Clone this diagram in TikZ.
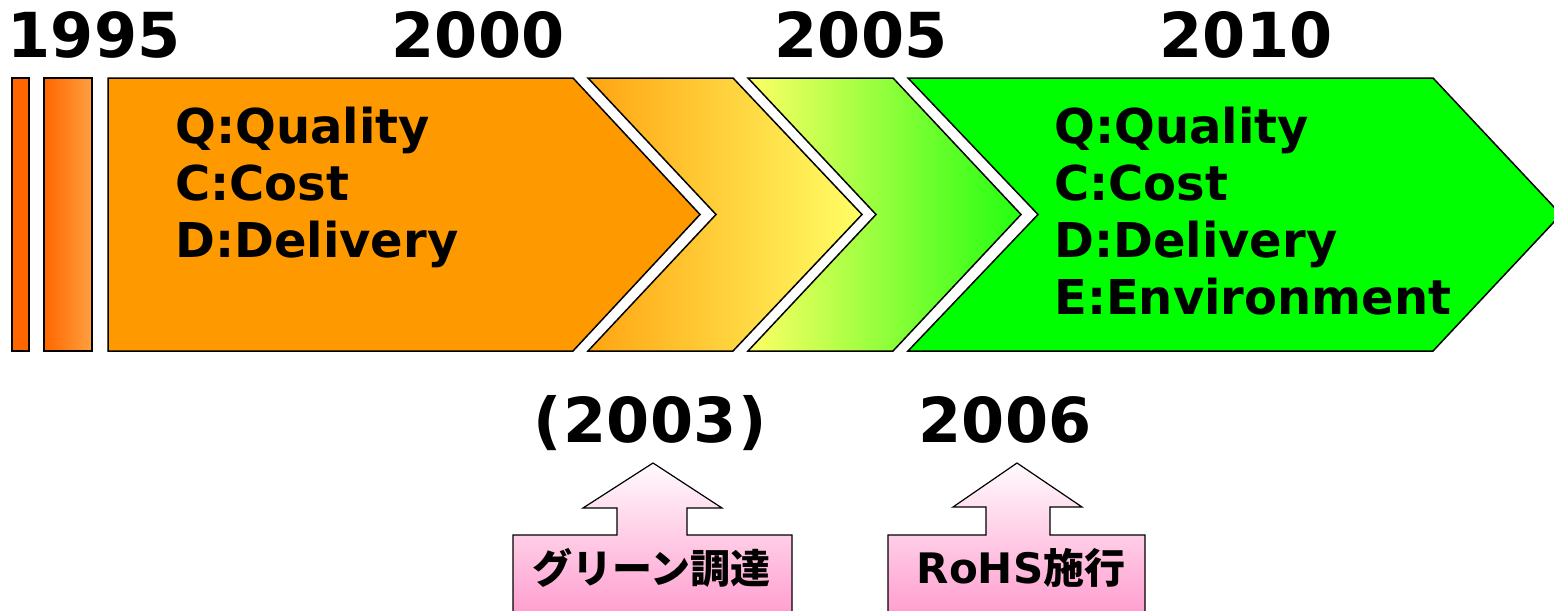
\documentclass[tikz,border=0pt]{standalone}
\usepackage{fontspec}
\setmainfont{DejaVu Sans}
\newfontfamily\jp{Noto Sans CJK JP}
\definecolor{barA}{HTML}{FF6600}
\definecolor{barB}{HTML}{FFA040}
\definecolor{orng}{HTML}{FF9900}
\definecolor{orngL}{HTML}{FFA412}
\definecolor{yell}{HTML}{FFFF66}
\definecolor{grn}{HTML}{00FF00}
\definecolor{grnD}{HTML}{22FF10}
\definecolor{pinkB}{HTML}{FF99CC}
\definecolor{pinkT}{HTML}{FFFAFD}
\tikzset{
  shp/.style={draw=black, line width=1.5, line join=miter},
  yr/.style={font=\bfseries\fontsize{62}{62}\selectfont, inner sep=0, anchor=base},
  qcd/.style={font=\bfseries\fontsize{48}{48}\selectfont, inner sep=0, anchor=base west},
  lbl/.style={inner sep=0, anchor=center},
  callout/.style={shp, line width=1.2, top color=pinkT, bottom color=pinkB}
}
\begin{document}
\begin{tikzpicture}[x=1pt,y=-1pt]
\useasboundingbox (0,0) rectangle (1554,610);
% left bars
\draw[shp, fill=barA] (12,78) rectangle (29,351);
\draw[shp, left color=barA, right color=barB] (44,78) rectangle (92,351);
% chevrons
\draw[shp, fill=orng] (108,78) -- (573,78) -- (700,214.5) -- (573,351) -- (108,351) -- cycle;
\draw[shp, left color=orngL, right color=yell] (588,78) -- (733,78) -- (862,214.5) -- (733,351) -- (588,351) -- (716,214.5) -- cycle;
\draw[shp, left color=yell, right color=grnD] (748,78) -- (893,78) -- (1021,214.5) -- (893,351) -- (748,351) -- (876,214.5) -- cycle;
\draw[shp, fill=grn] (908,78) -- (1433,78) -- (1561,214.5) -- (1433,351) -- (908,351) -- (1038,214.5) -- cycle;
% years
\node[yr] (y1995) at (94,57) {1995};
\node[yr] (y2000) at (478,57) {2000};
\node[yr] (y2005) at (861,57) {2005};
\node[yr] (y2010) at (1246,57) {2010};
\node[yr] (y2003) at (650,442) {(\kern2pt2003\kern2pt)};
\node[yr] (y2006) at (1005,442) {2006};
% QCD text
\node[qcd] (q1) at (175,143) {Q:Quality};
\node[qcd] (c1) at (175,200) {C:Cost};
\node[qcd] (d1) at (175,257) {D:Delivery};
\node[qcd] (q2) at (1054,143) {Q:Quality};
\node[qcd] (c2) at (1054,200) {C:Cost};
\node[qcd] (d2) at (1054,257) {D:Delivery};
\node[qcd] (e2) at (1054,314) {E:Environment};
% callouts
\draw[callout] (513,535) -- (617,535) -- (617,508) -- (583,508) -- (653,463) -- (722,508) -- (687,508) -- (687,535) -- (792,535) -- (792,622) -- (513,622) -- cycle;
\draw[callout] (888,535) -- (986,535) -- (986,507) -- (953,507) -- (1017,463) -- (1082,507) -- (1050,507) -- (1050,535) -- (1145,535) -- (1145,622) -- (888,622) -- cycle;
\node[lbl, font=\jp\bfseries\fontsize{40}{40}\selectfont] (green) at (651,568) {グリーン調達};
\node[lbl] (rohs) at (1021,568) {\bfseries\fontsize{42}{42}\selectfont RoHS{\jp\fontsize{41}{41}\selectfont 施行}};
\end{tikzpicture}
\end{document}
